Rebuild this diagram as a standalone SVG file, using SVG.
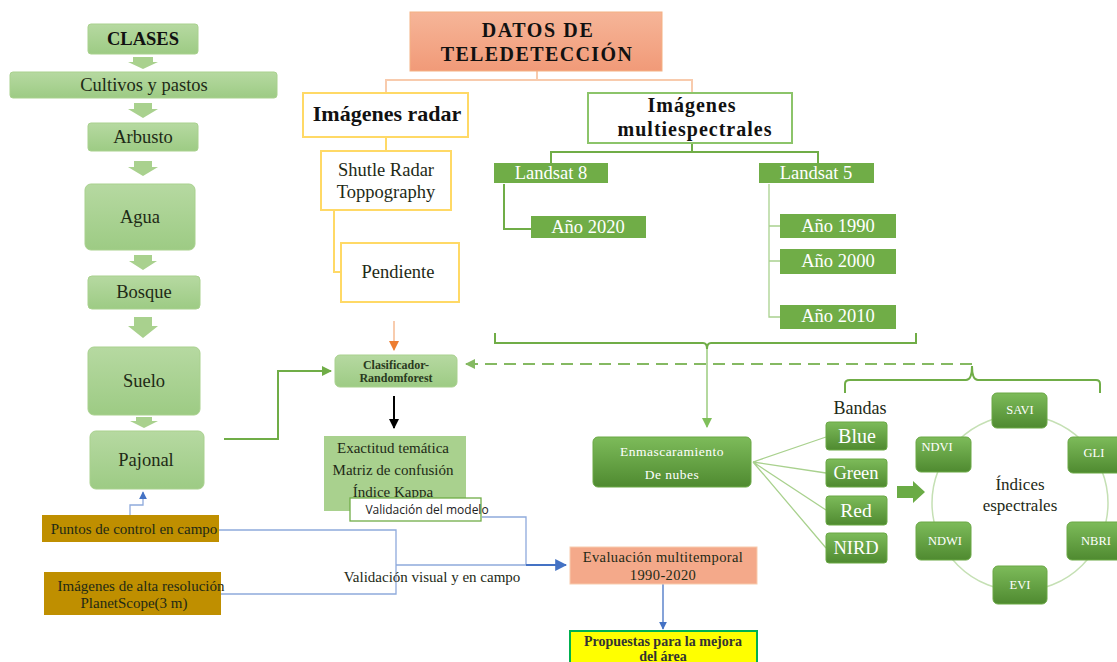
<svg xmlns="http://www.w3.org/2000/svg" width="1117" height="662" viewBox="0 0 1117 662">
<defs>
<linearGradient id="gLight" x1="0" y1="0" x2="0" y2="1"><stop offset="0" stop-color="#b6d9a1"/><stop offset="1" stop-color="#9dcb84"/></linearGradient>
<linearGradient id="gDark" x1="0" y1="0" x2="0" y2="1"><stop offset="0" stop-color="#7dbb5a"/><stop offset="1" stop-color="#4f8a30"/></linearGradient>
<linearGradient id="gSalmon" x1="0" y1="0" x2="0" y2="1"><stop offset="0" stop-color="#f6b598"/><stop offset="1" stop-color="#f19a78"/></linearGradient>
<marker id="aBlue" viewBox="0 0 10 10" refX="9" refY="5" markerWidth="6" markerHeight="6" orient="auto"><path d="M0,0 L10,5 L0,10 z" fill="#4472c4"/></marker>
<marker id="aGreen" viewBox="0 0 10 10" refX="9" refY="5" markerWidth="5" markerHeight="5" orient="auto"><path d="M0,0 L10,5 L0,10 z" fill="#70ad47"/></marker>
<marker id="aGreenL" viewBox="0 0 10 10" refX="9" refY="5" markerWidth="8" markerHeight="8" orient="auto"><path d="M0,0 L10,5 L0,10 z" fill="#7fbf5a"/></marker>
<marker id="aOrange" viewBox="0 0 10 10" refX="9" refY="5" markerWidth="8" markerHeight="8" orient="auto"><path d="M0,0 L10,5 L0,10 z" fill="#ed7d31"/></marker>
<marker id="aBlack" viewBox="0 0 10 10" refX="9" refY="5" markerWidth="5" markerHeight="5" orient="auto"><path d="M0,0 L10,5 L0,10 z" fill="#000"/></marker>
</defs>
<style>
text{font-family:"Liberation Serif","Times New Roman",serif;fill:#1e2a16;text-anchor:middle}
.lg{fill:url(#gLight);stroke:#a9d18e;stroke-width:1}
.dg{fill:url(#gDark);stroke:#6aa845;stroke-width:1}
.flat{fill:#70ad47}
.wt{fill:#fff}
.chev{fill:#a9d18e}
.gold{fill:#bf8f00}
.c-or{fill:none;stroke:#f8cbad;stroke-width:2}
.c-ye{fill:none;stroke:#ffd966;stroke-width:2}
.c-gr{fill:none;stroke:#70ad47;stroke-width:2}
.c-gl{fill:none;stroke:#a9d18e;stroke-width:1.3}
.c-bl{fill:none;stroke:#8faadc;stroke-width:1.3}
.b16{font-size:18.5px}
.b20{font-size:20px;font-weight:bold;fill:#111}
.s15{font-size:15px}
.idx{font-size:12.5px;fill:#fff}
</style>

<g id="connectors">
<polygon class="chev" points="133,57 153,57 153,62 158,62 143,69 128,62 133,62"/>
<polygon class="chev" points="134,103 152,103 152,109 158,109 143,118 128,109 134,109"/>
<polygon class="chev" points="134,161 152,161 152,167 158,167 143,176 128,167 134,167"/>
<polygon class="chev" points="134,255 152,255 152,261 157,261 143,270 129,261 134,261"/>
<polygon class="chev" points="134,317 152,317 152,326 158,326 143,338 128,326 134,326"/>
<polygon class="chev" points="136,417 152,417 152,421 158,421 144,428 130,421 136,421"/>
<path class="c-gr" d="M224,439 H278 V371 H331" marker-end="url(#aGreen)"/>
<path class="c-bl" d="M130,515 V505 H143 V492" stroke="#4472c4" marker-end="url(#aBlue)"/>
<path class="c-or" d="M537,71 V80 M386,93 V80 H692 V93"/>
<path class="c-ye" d="M386,137 V151 M334,211 V272 H341"/>
<path class="c-gr" stroke="#8cc46a" d="M692,143 V152 M551,163 V152 H818 V163"/>
<path class="c-gr" stroke="#8cc46a" d="M504,184 V229 H531"/>
<path class="c-gl" stroke-width="2" d="M769,184 V317 H780 M769,226 H780 M769,261 H780"/>
<path class="c-gr" d="M495,333 V343 H703 Q707,343 707,349 Q707,343 711,343 H916 V333"/>
<path d="M707,349 V427" fill="none" stroke="#8cc46a" stroke-width="1.3" marker-end="url(#aGreenL)"/>
<path d="M394,321 V350" fill="none" stroke="#f4b183" stroke-width="1.3" marker-end="url(#aOrange)"/>
<path d="M394,396 V428" fill="none" stroke="#000" stroke-width="2" marker-end="url(#aBlack)"/>
<path d="M972,364 H466" fill="none" stroke="#70ad47" stroke-width="2" stroke-dasharray="12,7" opacity="0.85" marker-end="url(#aGreen)"/>
<path class="c-gr" d="M845,393 V384 Q845,380 850,380 H966 Q972,380 972,366 Q972,380 978,380 H1096 Q1100,380 1100,384 V393"/>
<path class="c-gl" d="M753,462 L826,437 M753,462 L826,473 M753,462 L826,510 M753,462 L826,548"/>
<polygon points="897,486 913,486 913,481 925,492 913,503 913,498 897,498" fill="#6aab45"/>
<circle cx="1020" cy="503" r="88" fill="none" stroke="#c5e0b4" stroke-width="1.5"/>
<path class="c-bl" d="M219,530 H396 V594 H221 M396,565 H566"/>
<path class="c-bl" d="M482,517 H526 V565"/>
<path d="M526,565 H566" fill="none" stroke="#4472c4" stroke-width="2" marker-end="url(#aBlue)"/>
<path d="M663,584 V629" fill="none" stroke="#4472c4" stroke-width="1.3" marker-end="url(#aBlue)"/>
</g>

<g id="clases"><rect class="lg" x="88" y="24" width="110" height="30" rx="3"/><text x="143" y="45" class="b16" font-weight="bold" style="fill:#111">CLASES</text></g>
<g id="cultivos"><rect class="lg" x="10" y="72" width="267" height="26" rx="3"/><text x="144" y="91" class="b16">Cultivos y pastos</text></g>
<g id="arbusto"><rect class="lg" x="88" y="123" width="110" height="28" rx="3"/><text x="143" y="143" class="b16">Arbusto</text></g>
<g id="agua"><rect class="lg" x="85" y="184" width="110" height="66" rx="6"/><text x="140" y="223" class="b16">Agua</text></g>
<g id="bosque"><rect class="lg" x="88" y="276" width="112" height="33" rx="4"/><text x="144" y="298" class="b16">Bosque</text></g>
<g id="suelo"><rect class="lg" x="88" y="347" width="112" height="68" rx="6"/><text x="144" y="387" class="b16">Suelo</text></g>
<g id="pajonal"><rect class="lg" x="90" y="431" width="114" height="58" rx="6"/><text x="146" y="466" class="b16">Pajonal</text></g>

<g id="puntos"><rect class="gold" x="42" y="515" width="177" height="27"/><text x="134" y="534" class="s15">Puntos de control en campo</text></g>
<g id="planetscope"><rect class="gold" x="44" y="572" width="177" height="43"/><text x="141" y="591" class="s15">Imágenes de alta resolución</text><text x="134" y="608" class="s15">PlanetScope(3 m)</text></g>

<g id="datos"><rect x="410" y="12" width="252" height="59" fill="url(#gSalmon)" stroke="#f4b183"/><text x="538" y="37" class="b20" letter-spacing="1.6">DATOS DE</text><text x="537" y="61" class="b20" letter-spacing="1.4">TELEDETECCIÓN</text></g>
<g id="radar"><rect x="303" y="93" width="165" height="44" fill="#fff" stroke="#ffd966" stroke-width="2"/><text x="387" y="121" class="b20" style="font-size:22px">Imágenes radar</text></g>
<g id="shutle"><rect x="321" y="151" width="130" height="59" fill="#fff" stroke="#ffd966" stroke-width="2"/><text x="386" y="176" class="b16">Shutle Radar</text><text x="386" y="198" class="b16">Toppography</text></g>
<g id="pendiente"><rect x="341" y="243" width="118" height="59" fill="#fff" stroke="#ffd966" stroke-width="2"/><text x="398" y="278" class="b16">Pendiente</text></g>

<g id="multiespectrales"><rect x="588" y="93" width="204" height="50" fill="#fff" stroke="#8cc46a" stroke-width="2"/><text x="692" y="112" class="b20" letter-spacing="1">Imágenes</text><text x="695" y="136" class="b20" letter-spacing="1">multiespectrales</text></g>
<g id="landsat8"><rect class="flat" x="494" y="163" width="114" height="20"/><text x="551" y="179" class="b16 wt">Landsat 8</text></g>
<g id="landsat5"><rect class="flat" x="759" y="163" width="115" height="20"/><text x="816" y="179" class="b16 wt">Landsat 5</text></g>
<g id="ano2020"><rect class="flat" x="531" y="216" width="115" height="22"/><text x="588" y="233" class="b16 wt">Año 2020</text></g>
<g id="ano1990"><rect class="flat" x="780" y="214" width="116" height="24"/><text x="838" y="232" class="b16 wt">Año 1990</text></g>
<g id="ano2000"><rect class="flat" x="780" y="249" width="116" height="25"/><text x="838" y="267" class="b16 wt">Año 2000</text></g>
<g id="ano2010"><rect class="flat" x="780" y="305" width="116" height="24"/><text x="838" y="322" class="b16 wt">Año 2010</text></g>

<g id="clasificador"><rect class="lg" x="335" y="355" width="122" height="32" rx="5"/><text x="396" y="369" font-size="12" font-weight="bold" style="fill:#2a3a20">Clasificador-</text><text x="396" y="382" font-size="12" font-weight="bold" style="fill:#2a3a20">Randomforest</text></g>
<g id="exactitud"><rect x="324" y="436" width="142" height="75" fill="#a9d18e"/><text x="393" y="453" class="s15">Exactitud temática</text><text x="393" y="475" class="s15">Matriz de confusión</text><text x="393" y="497" class="s15">Índice Kappa</text></g>
<g id="validacion-modelo"><rect x="350" y="498" width="131" height="23" fill="#fff" stroke="#70ad47" stroke-width="1.3"/><text x="427" y="514" font-size="12" style="font-family:'Open Sans','DejaVu Sans',sans-serif;fill:#222">Validación del modelo</text></g>
<g id="validacion-visual"><text x="432" y="582" class="s15">Validación visual y en campo</text></g>

<g id="evaluacion"><rect x="570" y="547" width="187" height="37" fill="#f4a98a" stroke="#f8cbad"/><text x="663" y="562" font-size="14.5" letter-spacing="0.4">Evaluación multitemporal</text><text x="663" y="580" font-size="14.5" letter-spacing="0.4">1990-2020</text></g>
<g id="propuestas"><rect x="570" y="631" width="187" height="34" fill="#ffff00" stroke="#00b050" stroke-width="2"/><text x="663" y="646" font-size="14" font-weight="bold" style="fill:#333">Propuestas para la mejora</text><text x="663" y="661" font-size="14" font-weight="bold" style="fill:#333">del área</text></g>

<g id="enmascaramiento"><rect class="dg" x="593" y="437" width="158" height="50" rx="5"/><text x="672" y="456" font-size="13.5" class="wt" letter-spacing="0.5">Enmascaramiento</text><text x="672" y="479" font-size="13.5" class="wt" letter-spacing="0.5">De nubes</text></g>
<g id="bandas"><text x="860" y="414" font-size="18">Bandas</text></g>
<g id="blue"><rect class="dg" x="826" y="422" width="61" height="28" rx="3"/><text x="857" y="443" class="b16 wt" style="font-size:20px">Blue</text></g>
<g id="green"><rect class="dg" x="826" y="459" width="61" height="28" rx="3"/><text x="856" y="479" class="b16 wt">Green</text></g>
<g id="red"><rect class="dg" x="826" y="496" width="61" height="29" rx="3"/><text x="856" y="517" class="b16 wt" style="font-size:19.5px">Red</text></g>
<g id="nird"><rect class="dg" x="826" y="533" width="61" height="30" rx="3"/><text x="856" y="554" class="b16 wt">NIRD</text></g>

<g id="indices"><text x="1020" y="490" font-size="17">Índices</text><text x="1020" y="511" font-size="17">espectrales</text></g>
<g id="savi"><rect class="dg" x="992" y="393" width="55" height="35" rx="5"/><text x="1020" y="414" class="idx">SAVI</text></g>
<g id="gli"><rect class="dg" x="1068" y="437" width="55" height="36" rx="5"/><text x="1094" y="457" class="idx">GLI</text></g>
<g id="ndvi"><rect class="dg" x="916" y="437" width="55" height="35" rx="5"/><text x="937" y="451" class="idx">NDVI</text></g>
<g id="ndwi"><rect class="dg" x="916" y="522" width="55" height="38" rx="5"/><text x="945" y="545" class="idx">NDWI</text></g>
<g id="nbri"><rect class="dg" x="1067" y="522" width="56" height="38" rx="5"/><text x="1096" y="545" class="idx">NBRI</text></g>
<g id="evi"><rect class="dg" x="993" y="566" width="54" height="38" rx="5"/><text x="1020" y="589" class="idx">EVI</text></g>
</svg>
